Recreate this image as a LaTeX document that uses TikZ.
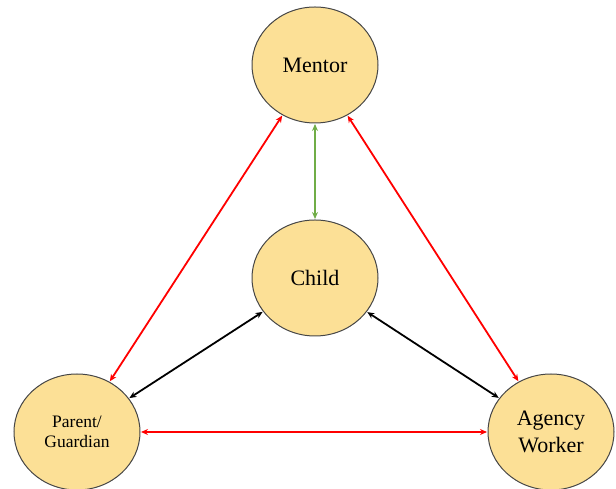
\documentclass[tikz,border=0pt]{standalone}
\usepackage{fontspec}
\setmainfont{Liberation Serif}
\usetikzlibrary{arrows.meta,shapes.geometric}
\definecolor{circfill}{RGB}{252,224,150}
\definecolor{circedge}{RGB}{70,70,70}
\definecolor{linkgreen}{RGB}{112,173,71}
\begin{document}
\begin{tikzpicture}[x=1pt,y=1pt,
  person/.style={ellipse,draw=circedge,line width=1pt,fill=circfill,
    minimum width=126pt,minimum height=116pt,inner sep=0pt,align=center,
    font=\fontsize{22}{25}\selectfont},
  link/.style={line width=1.8pt,{Stealth[length=7pt,width=6pt]}-{Stealth[length=7pt,width=6pt]},shorten <=0.5pt,shorten >=0.5pt}]
\useasboundingbox (0,0) rectangle (616,489);
\node[person] (M) at (315,424) {Mentor};
\node[person] (C) at (315,211) {Child};
\node[person,font=\fontsize{17.5}{20}\selectfont] (P) at (77,57) {Parent/\\Guardian};
\node[person,font=\fontsize{22}{27}\selectfont] (A) at (551,57) {Agency\\Worker};
\draw[link,linkgreen] (M) -- (C);
\draw[link,red] (M) -- (P);
\draw[link,red] (M) -- (A);
\draw[link,black] (C) -- (P);
\draw[link,black] (C) -- (A);
\draw[link,red] (P) -- (A);
\end{tikzpicture}
\end{document}
